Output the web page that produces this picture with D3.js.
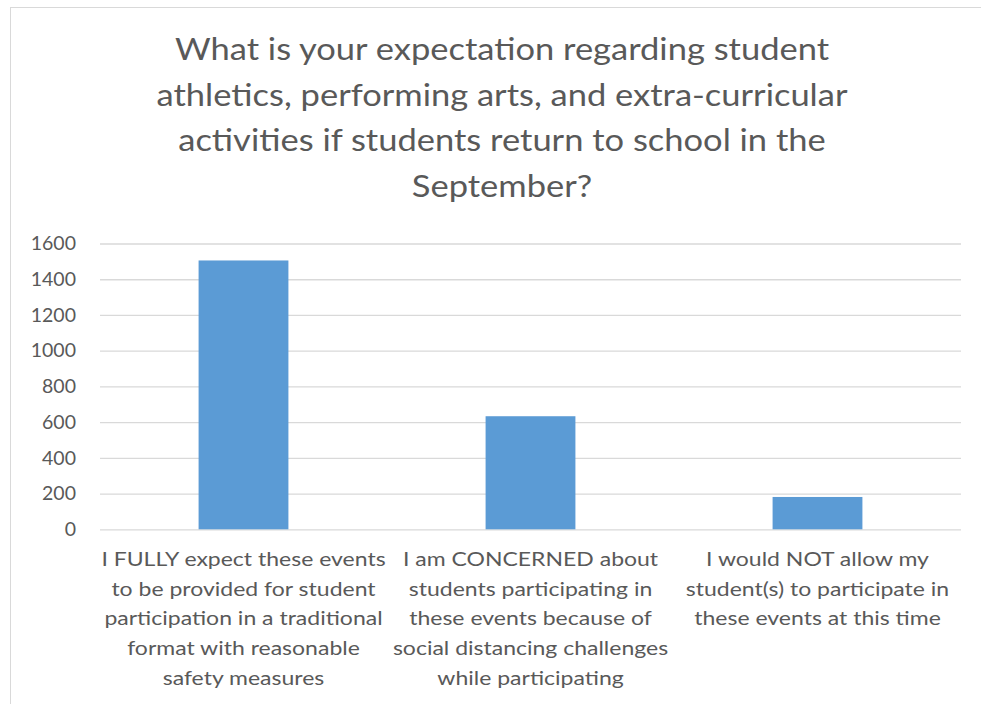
<!DOCTYPE html>
<html>
<head>
<meta charset="utf-8">
<script src="https://cdn.jsdelivr.net/npm/d3@7"></script>
<style>
  body { margin: 0; background: #fff; }
  text { font-family: Lato, "Open Sans", sans-serif; fill: #595959; }
</style>
</head>
<body>
<div id="chart"></div>
<script>
//Datos
const categories = [
    ['I FULLY expect these events', 'to be provided for student', 'participation in a traditional', 'format with reasonable', 'safety measures'],
    ['I am CONCERNED about', 'students participating in', 'these events because of', 'social distancing challenges', 'while participating'],
    ['I would NOT allow my', 'student(s) to participate in', 'these events at this time']
];
const values = [1505, 633, 181];
const yTicks = [0, 200, 400, 600, 800, 1000, 1200, 1400, 1600];
const titleLines = [
    'What is your expectation regarding student',
    'athletics, performing arts, and extra-curricular',
    'activities if students return to school in the',
    'September?'
];

const W = 981, H = 704;
const COLOR_BAR = '#5B9BD5', COLOR_GRID = '#D9D9D9';
//Estiramiento horizontal del texto (la fuente original es más ancha)
const STRETCH = 1.15;

let margin = {top: 243.5, right: 20, bottom: 174.7, left: 100};
let width = W - margin.left - margin.right,
    height = H - margin.top - margin.bottom;

let svg = d3.select('#chart')
    .append('svg')
        .attr('width', W)
        .attr('height', H);

//Borde del gráfico
svg.append('rect')
    .attr('x', 10.5)
    .attr('y', 7.5)
    .attr('width', W + 10)
    .attr('height', H + 10)
    .attr('fill', 'none')
    .attr('stroke', COLOR_GRID);

//Título
svg.append('g')
    .attr('transform', 'translate(502,0) scale(' + STRETCH + ',1)')
    .append('text')
    .attr('text-anchor', 'middle')
    .style('font-size', '30px')
    .selectAll('tspan')
    .data(titleLines)
    .enter()
    .append('tspan')
    .attr('x', 0)
    .attr('y', function(d, i) { return 60 + i * 45.6; })
    .text(function(d) { return d; });

let g = svg.append('g')
    .attr('transform', 'translate(' + margin.left + ',' + margin.top + ')');

let x = d3.scaleBand()
    .domain(d3.range(categories.length))
    .range([0, width])
    .paddingInner(0.687)
    .paddingOuter(0.3435);

let y = d3.scaleLinear()
    .domain([0, 1600])
    .range([height, 0]);

//Rejilla
g.append('g')
    .attr('class', 'grid')
    .call(d3.axisLeft(y).tickValues(yTicks).tickSize(-width).tickFormat(''))
    .call(function(s) {
        s.select('.domain').remove();
        s.selectAll('.tick line').attr('stroke', COLOR_GRID).attr('stroke-width', 1.3);
    });

//Eje Y
g.append('g')
    .call(d3.axisLeft(y).tickValues(yTicks).tickSize(0).tickPadding(24).tickFormat(d3.format('d')))
    .call(function(s) {
        s.select('.domain').remove();
        s.selectAll('.tick text')
            .style('font-size', '19.5px')
            .style('font-family', 'Lato, "Open Sans", sans-serif')
            .attr('fill', '#595959');
    });

//Barras
g.selectAll('.bar')
    .data(values)
    .enter()
    .append('rect')
    .attr('class', 'bar')
    .attr('x', function(d, i) { return x(i); })
    .attr('y', function(d) { return y(d); })
    .attr('width', x.bandwidth())
    .attr('height', function(d) { return y(0) - y(d); })
    .attr('fill', COLOR_BAR);

//Etiquetas de categoría
let labels = g.selectAll('.cat')
    .data(categories)
    .enter()
    .append('g')
    .attr('class', 'cat')
    .attr('transform', function(d, i) { return 'translate(' + (x(i) + x.bandwidth() / 2) + ',0) scale(' + STRETCH + ',1)'; })
    .append('text')
    .attr('text-anchor', 'middle')
    .style('font-size', '20px');

labels.selectAll('tspan')
    .data(function(d) { return d; })
    .enter()
    .append('tspan')
    .attr('x', 0)
    .attr('y', function(d, j) { return height + 37 + j * 29.6; })
    .text(function(d) { return d; });
</script>
</body>
</html>
